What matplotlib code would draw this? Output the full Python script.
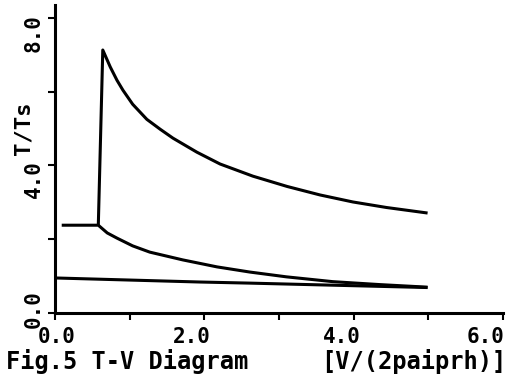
import numpy as np
import matplotlib
matplotlib.use("Agg")
from matplotlib import pyplot as plt
from matplotlib.transforms import ScaledTranslation

# values (T/Ts against V/(2*pai*r*h))
top_x = [0.58, 0.64, 0.74, 0.83, 0.91, 1.04, 1.23, 1.41, 1.58, 1.90, 2.21, 2.65,
         3.11, 3.55, 3.99, 4.44, 4.99]
top_y = [2.38, 7.13, 6.67, 6.31, 6.04, 5.66, 5.25, 4.98, 4.74, 4.36, 4.04, 3.71,
         3.43, 3.20, 3.01, 2.86, 2.71]

mid_x = [0.09, 0.58, 0.70, 0.83, 1.04, 1.27, 1.71, 2.17, 2.61, 3.10, 3.72, 4.35, 4.99]
mid_y = [2.38, 2.38, 2.17, 2.03, 1.82, 1.65, 1.44, 1.25, 1.11, 0.98, 0.85, 0.77, 0.70]

low_x = [0.0, 1.94, 2.61, 4.99]
low_y = [0.95, 0.84, 0.81, 0.69]

xticks = [0, 1, 2, 3, 4, 5, 6]
xticklabels = ['0.0', '', '2.0', '', '4.0', '', '6.0']
yticks = [0, 2, 4, 6, 8]
yticklabels = ['0.0', '', '4.0', '', '8.0']

font = dict(family='DejaVu Sans Mono', weight='bold')

fig = plt.figure(figsize=(5.12, 3.92), dpi=100)
ax = fig.add_axes([55/512, 79/392, 448/512, 308/392])

for xs, ys in [(top_x, top_y), (mid_x, mid_y), (low_x, low_y)]:
    ax.plot(xs, ys, color='black', lw=2.2, solid_capstyle='butt', solid_joinstyle='round')

ax.set_xlim(0, 6)
ax.set_ylim(0, 8.35)
for s in ['top', 'right']:
    ax.spines[s].set_visible(False)
for s in ['left', 'bottom']:
    ax.spines[s].set_linewidth(2.2)

ax.set_xticks(xticks)
ax.set_xticklabels(xticklabels, fontsize=15, **font)
ax.set_yticks(yticks)
ax.set_yticklabels(yticklabels, fontsize=15, rotation=90, va='center', **font)
ax.tick_params(axis='x', direction='out', length=5, width=1.5, pad=5)
ax.tick_params(axis='y', direction='out', length=5, width=1.5, pad=3)

# the scan's labels sit a little off their ticks
shifts = [2, 0, -13, 0, -12, 0, -17]
for lab, dx in zip(ax.get_xticklabels(), shifts):
    lab.set_transform(lab.get_transform() + ScaledTranslation(dx/100, 0, fig.dpi_scale_trans))
yshifts = [4, 0, -14, 0, -15]
for lab, dy in zip(ax.get_yticklabels(), yshifts):
    lab.set_transform(lab.get_transform() + ScaledTranslation(0, dy/100, fig.dpi_scale_trans))

fig.text(24/512, 1 - 128/392, 'T/Ts', rotation=90, ha='center', va='center',
         fontsize=16, **font)
fig.text(6/512, 1 - 362/392, 'Fig.5 T-V Diagram', ha='left', va='center',
         fontsize=17, **font)
fig.text(506/512, 1 - 362/392, '[V/(2paiprh)]', ha='right', va='center',
         fontsize=17, **font)

fig.savefig('out.png', dpi=100)
